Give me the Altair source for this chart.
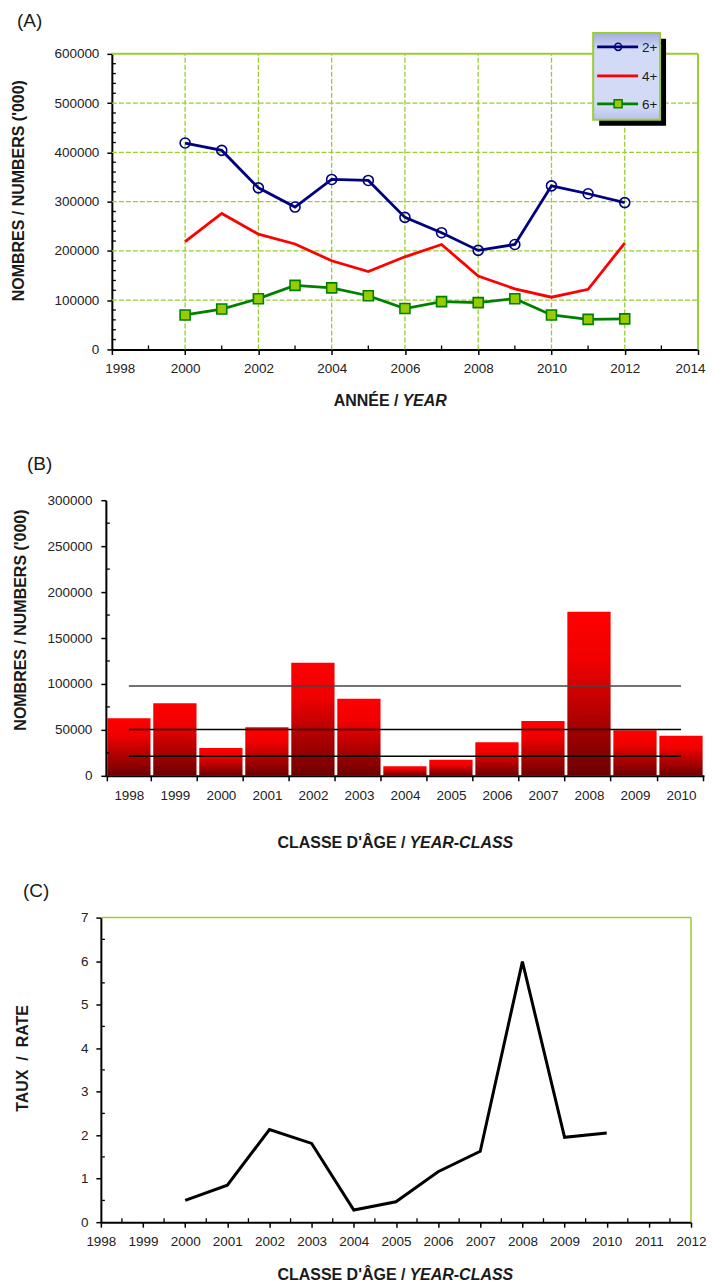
import altair as alt
import pandas as pd

FONT = "Liberation Sans"
GREEN = "#9acd32"

# ---------------- Panel A data ----------------
years_a = [2000, 2001, 2002, 2003, 2004, 2005, 2006, 2007, 2008, 2009, 2010, 2011, 2012]
n_2plus = [419000, 404000, 328000, 289000, 345000, 343000, 268000, 237000, 201000, 213000, 332000, 316000, 298000]
n_4plus = [219000, 276000, 234000, 214000, 180000, 158000, 188000, 213000, 149000, 123000, 106000, 122000, 216000]
n_6plus = [70000, 82000, 103000, 130000, 125000, 109000, 83000, 97000, 95000, 103000, 70000, 61000, 62000]
series_names = ["2+", "4+", "6+"]

a_xticks = [1998, 2000, 2002, 2004, 2006, 2008, 2010, 2012, 2014]
a_xminor = [1999, 2001, 2003, 2005, 2007, 2009, 2011, 2013]
a_yticks = [0, 100000, 200000, 300000, 400000, 500000, 600000]
a_yminor = [v for v in range(20000, 600000, 20000) if v % 100000]
a_vgrid = [2000, 2002, 2004, 2006, 2008, 2010, 2012]
a_hgrid = [100000, 200000, 300000, 400000, 500000]

# ---------------- Panel B data ----------------
yc_years = ["1998", "1999", "2000", "2001", "2002", "2003", "2004",
            "2005", "2006", "2007", "2008", "2009", "2010"]
recruits = [62700, 79000, 30400, 52900, 123200, 84000, 10500, 17400, 36600, 59800, 178600, 49700, 43500]
ref_levels = [97800, 50300, 21400]
ref_colors = ["#444444", "black", "black"]
b_yticks = [0, 50000, 100000, 150000, 200000, 250000, 300000]
b_yminor = [25000, 75000, 125000, 175000, 225000, 275000]

# ---------------- Panel C data ----------------
rate_years = [2000, 2001, 2002, 2003, 2004, 2005, 2006, 2007, 2008, 2009, 2010]
rate = [0.50, 0.85, 2.13, 1.81, 0.28, 0.47, 1.16, 1.63, 5.99, 1.95, 2.05]
c_xticks = list(range(1998, 2013))
c_xminor = [y + 0.5 for y in range(1998, 2012)]
c_yticks = [0, 1, 2, 3, 4, 5, 6, 7]
c_yminor = [0.5, 1.5, 2.5, 3.5, 4.5, 5.5, 6.5]

one = pd.DataFrame({"k": [0]})


def axis(values=None, offset=0, fmt=None, **kw):
    d = dict(domainColor="black", domainWidth=2, tickColor="black",
             tickWidth=1.5, tickSize=5, labelFont=FONT, labelFontSize=13.5,
             labelColor="#222222", grid=False, title=None, offset=offset, labelPadding=6,
             labelOverlap=False, labelFlush=False, labelBound=False)
    if values is not None:
        d["values"] = values
    if fmt:
        d["format"] = fmt
    d.update(kw)
    return alt.Axis(**d)


def txt(s, x, y, size=16, weight="bold", style="normal", align="left", angle=0):
    return alt.Chart(one).mark_text(
        text=s, font=FONT, fontSize=size, fontWeight=weight, fontStyle=style,
        align=align, baseline="alphabetic", angle=angle, color="#1a1a1a"
    ).encode(x=alt.value(x), y=alt.value(y))


# ================= Panel A =================
WA, HA = 598, 296
xa = alt.Scale(domain=[1998, 2014], range=[11, WA], nice=False, zero=False)
ya = alt.Scale(domain=[0, 600000], nice=False, zero=False)
AXA = axis(a_xticks, fmt="d", labelPadding=7, labelFlush=True, labelFlushOffset=7)
AYA = axis(a_yticks, offset=-11, fmt="d", labelPadding=8)


def XA(f):
    return alt.X(f, scale=xa, axis=AXA)


def YA(f):
    return alt.Y(f, scale=ya, axis=AYA)


dfa = pd.DataFrame({"year": years_a, "s2": n_2plus, "s4": n_4plus, "s6": n_6plus})

dfh = pd.DataFrame({"v": a_hgrid, "a": [a_xticks[0]] * len(a_hgrid), "b": [a_xticks[-1]] * len(a_hgrid)})
hgrid = alt.Chart(dfh).mark_rule(color=GREEN, strokeWidth=1.3, strokeDash=[5, 2]).encode(
    x=XA("a:Q"), x2="b:Q", y=YA("v:Q"))
dfv = pd.DataFrame({"v": a_vgrid, "a": [a_yticks[0]] * len(a_vgrid), "b": [a_yticks[-1]] * len(a_vgrid)})
vgrid = alt.Chart(dfv).mark_rule(color=GREEN, strokeWidth=1.3, strokeDash=[5, 2]).encode(
    x=XA("v:Q"), y=YA("a:Q"), y2="b:Q")
dfbox = pd.DataFrame({"x0": [a_xticks[0], a_xticks[-1]], "x1": [a_xticks[-1], a_xticks[-1]],
                      "y0": [a_yticks[-1], a_yticks[0]], "y1": [a_yticks[-1], a_yticks[-1]]})
borders = alt.Chart(dfbox).mark_rule(color=GREEN, strokeWidth=2).encode(
    x=XA("x0:Q"), x2="x1:Q", y=YA("y0:Q"), y2="y1:Q")

a_xmin = alt.Chart(pd.DataFrame({"v": a_xminor})).mark_rule(color="black", strokeWidth=1.3).encode(
    x=XA("v:Q"), y=alt.value(HA - 4), y2=alt.value(HA))
a_ymin = alt.Chart(pd.DataFrame({"v": a_yminor})).mark_rule(color="black", strokeWidth=1.3).encode(
    y=YA("v:Q"), x=alt.value(11), x2=alt.value(15))

line4 = alt.Chart(dfa).mark_line(color="#ff0000", strokeWidth=2.8).encode(x=XA("year:Q"), y=YA("s4:Q"))
line2 = alt.Chart(dfa).mark_line(color="#000080", strokeWidth=2.8).encode(x=XA("year:Q"), y=YA("s2:Q"))
pts2 = alt.Chart(dfa).mark_point(shape="circle", filled=False, color="#000080", size=100,
                                  strokeWidth=1.6, opacity=1).encode(x=XA("year:Q"), y=YA("s2:Q"))
line6 = alt.Chart(dfa).mark_line(color="#008000", strokeWidth=2.8).encode(x=XA("year:Q"), y=YA("s6:Q"))
pts6 = alt.Chart(dfa).mark_point(shape="square", filled=True, fill="#99cc00", stroke="#008000",
                                  size=100, strokeWidth=1.6, opacity=1).encode(x=XA("year:Q"), y=YA("s6:Q"))

# legend (drawn)
LX0, LX1, LY0, LY1 = 493, 560, -21, 66
leg_shadow = alt.Chart(one).mark_rect(color="black").encode(
    x=alt.value(LX0 + 6), x2=alt.value(LX1 + 6), y=alt.value(LY0 + 6), y2=alt.value(LY1 + 6))
leg_box = alt.Chart(one).mark_rect(
    fill=alt.Gradient(gradient="linear", x1=0, x2=0, y1=0, y2=1,
                      stops=[alt.GradientStop(color="#a4acdf", offset=0),
                             alt.GradientStop(color="#d2daf6", offset=0.2),
                             alt.GradientStop(color="#d2daf6", offset=0.85),
                             alt.GradientStop(color="#b8c0ec", offset=1)]),
    stroke=GREEN, strokeWidth=2
).encode(x=alt.value(LX0), x2=alt.value(LX1), y=alt.value(LY0), y2=alt.value(LY1))

leg_rows = [-7, 22, 50]
leg_colors = ["#000080", "#ff0000", "#008000"]
leg_layers = []
for name, ry, col in zip(series_names, leg_rows, leg_colors):
    leg_layers.append(alt.Chart(one).mark_rule(color=col, strokeWidth=2.8).encode(
        x=alt.value(497), x2=alt.value(538), y=alt.value(ry)))
    leg_layers.append(txt(name, 542, ry + 5, size=13.5, weight="normal", align="left"))
leg_layers.append(alt.Chart(one).mark_point(shape="circle", filled=False, color="#000080", size=50,
                                            strokeWidth=1.5, opacity=1).encode(
    x=alt.value(518), y=alt.value(leg_rows[0])))
leg_layers.append(alt.Chart(one).mark_point(shape="square", filled=True, fill="#99cc00", stroke="#008000",
                                            size=64, strokeWidth=1.5, opacity=1).encode(
    x=alt.value(518), y=alt.value(leg_rows[2])))

anchor = alt.Chart(one).mark_rule(color="white", strokeWidth=0.5).encode(
    x=alt.value(-92.75), x2=alt.value(-91.75), y=alt.value(-44.75))

panel_a = alt.layer(
    hgrid, vgrid, borders, a_xmin, a_ymin,
    line4, line2, pts2, line6, pts6,
    leg_shadow, leg_box, *leg_layers,
    txt("(A)", -84, -27, size=19, weight="normal"),
    txt("NOMBRES / NUMBERS ('000)", -77, 137, angle=270, align="center"),
    txt("ANNÉE /", 298, 353, align="right"),
    txt("YEAR", 302, 353, style="italic"),
    anchor,
).properties(width=WA, height=HA)

# ================= Panel B =================
WB, HB, TB = 604, 276, 9          # TB: extra room above the plot to even out spacing
xb = alt.Scale(domain=yc_years, range=[5, WB], paddingInner=0.06, paddingOuter=0.03)
yb = alt.Scale(domain=[0, 300000], range=[HB + TB, TB], nice=False, zero=False)
AXB = axis(labelAngle=0, tickBand="extent", labelPadding=8)
AYB = axis(b_yticks, offset=-5, fmt="d", labelPadding=9)

dfb = pd.DataFrame({"yc": yc_years, "n": recruits})
bars = alt.Chart(dfb).mark_bar(
    color=alt.Gradient(gradient="linear", x1=0, x2=0, y1=0, y2=1,
                       stops=[alt.GradientStop(color="#ff0000", offset=0),
                              alt.GradientStop(color="#f00000", offset=0.3),
                              alt.GradientStop(color="#6e0000", offset=1)])
).encode(
    x=alt.X("yc:O", scale=xb, sort=None, axis=AXB),
    y=alt.Y("n:Q", scale=yb, axis=AYB),
)
ref_rows = []
for lvl, col in zip(ref_levels, ref_colors):
    for yr in (yc_years[0], yc_years[-1]):
        ref_rows.append({"yc": yr, "lvl": lvl, "c": col})
dfr = pd.DataFrame(ref_rows)
refs = alt.Chart(dfr).mark_line(strokeWidth=1.5).encode(
    x=alt.X("yc:O", scale=xb, sort=None, axis=AXB),
    y=alt.Y("lvl:Q", scale=yb, axis=AYB),
    detail="lvl:N",
    color=alt.Color("c:N", scale=None))
b_ymin = alt.Chart(pd.DataFrame({"v": b_yminor})).mark_rule(color="black", strokeWidth=1.3).encode(
    y=alt.Y("v:Q", scale=yb, axis=AYB), x=alt.value(5), x2=alt.value(9))

panel_b = alt.layer(
    bars, refs, b_ymin,
    txt("(B)", -74, -30 + TB, size=19, weight="normal"),
    txt("NOMBRES / NUMBERS ('000)", -75, 120 + TB, angle=270, align="center"),
    txt("CLASSE D'ÂGE /", 305, 348 + TB, align="right"),
    txt("YEAR-CLASS", 309, 348 + TB, style="italic"),
).properties(width=WB, height=HB + TB)

# ================= Panel C =================
WC, HC = 591, 305
xc = alt.Scale(domain=[1998, 2012], nice=False, zero=False)
ycs = alt.Scale(domain=[0, 7], nice=False, zero=False)
AXC = axis(c_xticks, fmt="d", labelPadding=7)
AYC = axis(c_yticks, fmt="d", labelPadding=8)

dfc = pd.DataFrame({"yc": rate_years, "r": rate})
c_line = alt.Chart(dfc).mark_line(color="black", strokeWidth=3).encode(
    x=alt.X("yc:Q", scale=xc, axis=AXC), y=alt.Y("r:Q", scale=ycs, axis=AYC))
dfcb = pd.DataFrame({"x0": [c_xticks[0], c_xticks[-1]], "x1": [c_xticks[-1], c_xticks[-1]],
                     "y0": [c_yticks[-1], c_yticks[0]], "y1": [c_yticks[-1], c_yticks[-1]]})
c_borders = alt.Chart(dfcb).mark_rule(color=GREEN, strokeWidth=1.5).encode(
    x=alt.X("x0:Q", scale=xc, axis=AXC), x2="x1:Q",
    y=alt.Y("y0:Q", scale=ycs, axis=AYC), y2="y1:Q")
c_xmin = alt.Chart(pd.DataFrame({"v": c_xminor})).mark_rule(color="black", strokeWidth=1.3).encode(
    x=alt.X("v:Q", scale=xc, axis=AXC), y=alt.value(HC - 4), y2=alt.value(HC))
c_ymin = alt.Chart(pd.DataFrame({"v": c_yminor})).mark_rule(color="black", strokeWidth=1.3).encode(
    y=alt.Y("v:Q", scale=ycs, axis=AYC), x=alt.value(0), x2=alt.value(4))

panel_c = alt.layer(
    c_borders, c_xmin, c_ymin, c_line,
    txt("(C)", -78, -21, size=19, weight="normal"),
    txt("TAUX\u00a0 /\u00a0 RATE", -73, 141, angle=270, align="center"),
    txt("CLASSE D'ÂGE /", 305, 363, align="right"),
    txt("YEAR-CLASS", 309, 363, style="italic"),
).properties(width=WC, height=HC)

chart = alt.vconcat(
    panel_a, panel_b, panel_c, spacing=142, bounds="flush"
).properties(padding=0).configure(font=FONT).configure_view(stroke=None)

chart.save("out.html", embed_options={"renderer": "svg", "actions": False})
